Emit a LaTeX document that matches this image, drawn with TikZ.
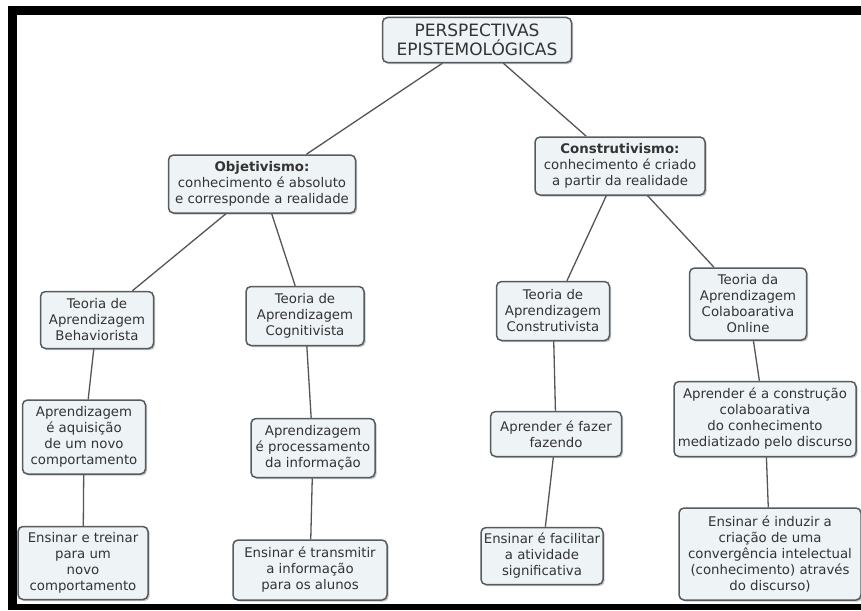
\documentclass[tikz,border=0pt]{standalone}
\usepackage{fontspec}
\setmainfont{DejaVu Sans}
\usetikzlibrary{shadows}
\definecolor{boxfill}{HTML}{EEF3F6}
\definecolor{boxline}{HTML}{555B5F}
\definecolor{ink}{HTML}{333333}
\definecolor{linkc}{HTML}{555555}
\begin{document}
\begin{tikzpicture}[x=1pt,y=-1pt,
  concept/.style={draw=boxline, line width=1.5pt, fill=boxfill, rounded corners=5pt,
    align=center, text=ink, font=\fontsize{13.3}{16}\selectfont, inner sep=2pt,
    drop shadow={shadow xshift=1.6pt, shadow yshift=-1.6pt, fill=black!45, opacity=0.5}},
  sized/.style 2 args={minimum width=#1pt, minimum height=#2pt},
  link/.style={draw=linkc, line width=1.3pt}]
  % page and black frame
  \fill[white] (0,0) rectangle (861,610);
  \useasboundingbox (0,0) rectangle (861,610);
  \fill[black] (9,6) rectangle (861,15);
  \fill[black] (8,6) rectangle (17,610);
  \fill[black] (8,604) rectangle (861,610);

  % concept boxes
  \node[concept, sized={189}{45}, font=\fontsize{17}{19.5}\selectfont] (root) at (477,40) {PERSPECTIVAS\\EPISTEMOLÓGICAS};
  \node[concept, sized={187}{58}] (obj) at (262,184) {\textbf{Objetivismo:}\\conhecimento é absoluto\\e corresponde a realidade};
  \node[concept, sized={170}{58}] (con) at (620,166) {\textbf{Construtivismo:}\\conhecimento é criado\\a partir da realidade};

  \node[concept, sized={113}{57}] (beh) at (97,320) {Teoria de\\Aprendizagem\\Behaviorista};
  \node[concept, sized={118}{59}] (cog) at (305,316) {Teoria de\\Aprendizagem\\Cognitivista};
  \node[concept, sized={113}{59}] (ctv) at (553,311) {Teoria de\\Aprendizagem\\Construtivista};
  \node[concept, sized={117}{72}] (col) at (748,304) {Teoria da\\Aprendizagem\\Colaboarativa\\Online};

  \node[concept, sized={123}{74}] (aqu) at (84,437) {Aprendizagem\\é aquisição\\de um novo\\comportamento};
  \node[concept, sized={124}{59}] (pro) at (313,448) {Aprendizagem\\é processamento\\da informação};
  \node[concept, sized={131}{45}] (faz) at (556,434) {Aprender é fazer\\fazendo};
  \node[concept, sized={182}{75}] (cst) at (765,419) {Aprender é a construção\\colaboarativa\\do conhecimento\\mediatizado pelo discurso};

  \node[concept, sized={130}{73}] (tre) at (83,563) {Ensinar e treinar\\para um\\novo\\comportamento};
  \node[concept, sized={154}{60}] (tra) at (310,570) {Ensinar é transmitir\\a informação\\para os alunos};
  \node[concept, sized={122}{57}] (fac) at (542,556) {Ensinar é facilitar\\a atividade\\significativa};
  \node[concept, sized={182}{92}] (ind) at (770,554) {Ensinar é induzir a\\criação de uma\\convergência intelectual\\(conhecimento) através\\do discurso)};

  % connectors between concepts
  \draw[link] (root) -- (obj);
  \draw[link] (root) -- (con);
  \draw[link] (obj) -- (beh);
  \draw[link] (obj) -- (cog);
  \draw[link] (con) -- (ctv);
  \draw[link] (con) -- (col);
  \draw[link] (beh) -- (aqu);
  \draw[link] (aqu) -- (tre);
  \draw[link] (cog) -- (pro);
  \draw[link] (pro) -- (tra);
  \draw[link] (ctv) -- (faz);
  \draw[link] (faz) -- (fac);
  \draw[link] (col) -- (cst);
  \draw[link] (cst) -- (ind);
\end{tikzpicture}
\end{document}
